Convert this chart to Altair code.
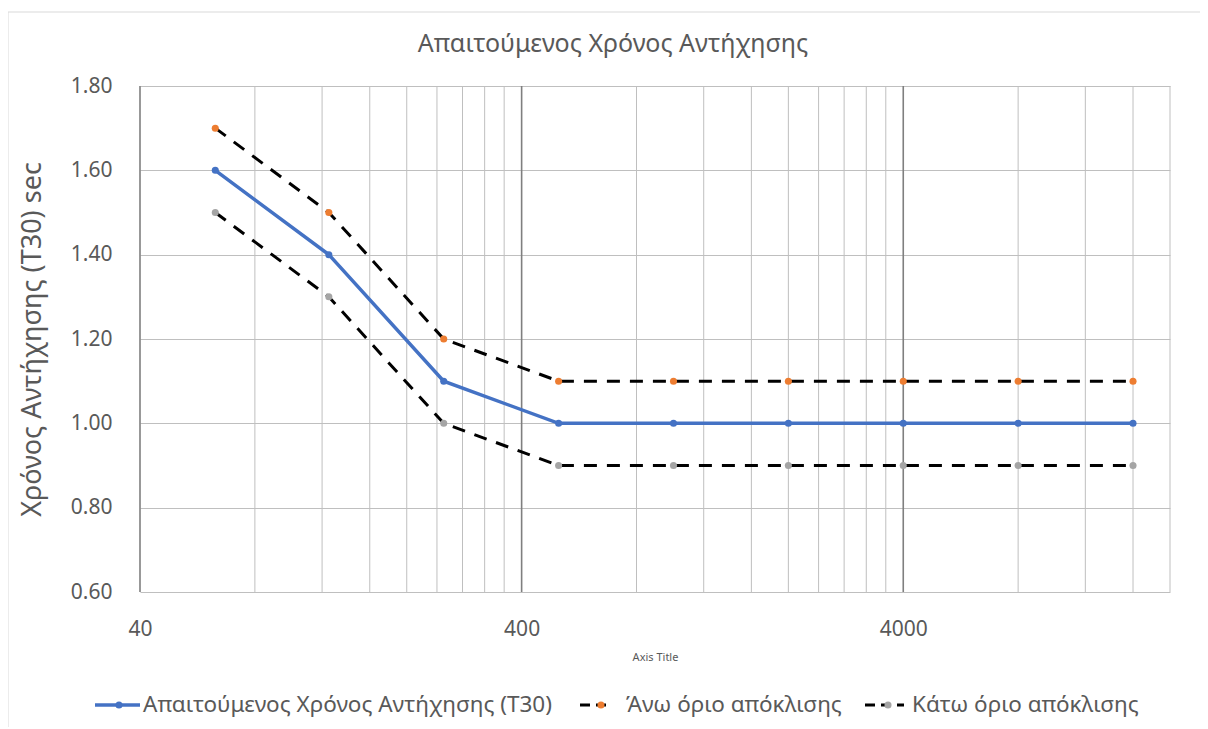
import altair as alt
import pandas as pd

freqs = [63, 125, 250, 500, 1000, 2000, 4000, 8000, 16000]
t30 = [1.6, 1.4, 1.1, 1.0, 1.0, 1.0, 1.0, 1.0, 1.0]
upper = [1.7, 1.5, 1.2, 1.1, 1.1, 1.1, 1.1, 1.1, 1.1]
lower = [1.5, 1.3, 1.0, 0.9, 0.9, 0.9, 0.9, 0.9, 0.9]

x_labels = [40, 400, 4000]
y_ticks = [0.6, 0.8, 1.0, 1.2, 1.4, 1.6, 1.8]
minor_grid = [80, 120, 160, 200, 240, 280, 320, 360,
              800, 1200, 1600, 2000, 2400, 2800, 3200, 3600,
              8000, 12000, 16000, 20000]
major_grid = [40, 400, 4000]

title = "Απαιτούμενος Χρόνος Αντήχησης"
y_title = "Χρόνος Αντήχησης (T30) sec"
x_title = "Axis Title"
series_names = ["Απαιτούμενος Χρόνος Αντήχησης (T30)", "Άνω όριο απόκλισης", "Κάτω όριο απόκλισης"]

FONT = "Noto Sans"
TXT = "#595959"
BLUE = "#4472C4"
ORANGE = "#ED7D31"
GRAY = "#A5A5A5"

W, H = 1030, 506

df = pd.DataFrame({"f": freqs, "t30": t30, "upper": upper, "lower": lower})

xscale = alt.Scale(type="log", domain=[40, 20000], nice=False)
yscale = alt.Scale(domain=[0.6, 1.8], nice=False, zero=False)

xaxis = alt.Axis(values=x_labels, format="d", grid=False, ticks=False, domain=False,
                 labelFlush=False, labelPadding=26, labelFontSize=21, labelColor=TXT, labelFont=FONT,
                 title=x_title, titleFontSize=11, titleColor=TXT, titleFont=FONT,
                 titleFontWeight="normal", titlePadding=12)
yaxis = alt.Axis(values=y_ticks, format=".2f", grid=True, gridColor="#BFBFBF", gridWidth=1,
                 ticks=False, domain=False, labelPadding=28, labelFontSize=21,
                 labelColor=TXT, labelFont=FONT, title=y_title, titleFontSize=27,
                 titleColor=TXT, titleFont=FONT, titleFontWeight="normal", titlePadding=24)

X = alt.X("f:Q", scale=xscale, axis=xaxis)

def xg():
    return alt.X("g:Q", scale=xscale, axis=xaxis)

base = alt.Chart(df)

axes_layer = base.mark_point(opacity=0).encode(
    x=X,
    y=alt.Y("t30:Q", scale=yscale, axis=yaxis),
)

minor = alt.Chart(pd.DataFrame({"g": minor_grid})).mark_rule(color="#BFBFBF", strokeWidth=1).encode(x=xg())
major = alt.Chart(pd.DataFrame({"g": major_grid})).mark_rule(color="#7F7F7F", strokeWidth=1.6).encode(x=xg())

dash = [13, 10]
DW = 3
PS = 50
def yy(field):
    return alt.Y(f"{field}:Q", scale=yscale, axis=yaxis)

up_line = base.mark_line(color="black", strokeDash=dash, strokeWidth=DW).encode(x=X, y=yy("upper"))
up_pts = base.mark_circle(color=ORANGE, size=PS, opacity=1).encode(x=X, y=yy("upper"))
lo_line = base.mark_line(color="black", strokeDash=dash, strokeWidth=DW).encode(x=X, y=yy("lower"))
lo_pts = base.mark_circle(color=GRAY, size=PS, opacity=1).encode(x=X, y=yy("lower"))
t_line = base.mark_line(color=BLUE, strokeWidth=3.5).encode(x=X, y=yy("t30"))
t_pts = base.mark_circle(color=BLUE, size=PS, opacity=1).encode(x=X, y=yy("t30"))

one = alt.Data(values=[{}])
LY = 619
def seg(x1, x2, color, width, sd=None):
    kw = dict(color=color, strokeWidth=width)
    if sd:
        kw["strokeDash"] = sd
    return alt.Chart(one).mark_rule(**kw).encode(x=alt.value(x1), x2=alt.value(x2), y=alt.value(LY))
def dot(x, color):
    return alt.Chart(one).mark_circle(color=color, size=PS, opacity=1).encode(x=alt.value(x), y=alt.value(LY))
def label(x, txt, size=22.5, y=LY):
    return alt.Chart(one).mark_text(align="left", baseline="middle", font=FONT, fontSize=size,
                                    color=TXT).encode(x=alt.value(x), y=alt.value(y), text=alt.value(txt))

legend = [
    seg(-45, 0, BLUE, 3.5), dot(-21, BLUE), label(3, series_names[0]),
    seg(440, 470, "black", DW, [10, 6]), dot(461, ORANGE), label(486, series_names[1]),
    seg(725, 764, "black", DW, [10, 6]), dot(748, GRAY), label(772, series_names[2]),
]

title_mark = alt.Chart(one).mark_text(align="center", baseline="middle", font=FONT, fontSize=25,
                                      color=TXT).encode(x=alt.value(473), y=alt.value(-42),
                                                        text=alt.value(title))

border_top = alt.Chart(one).mark_rule(color="#D9D9D9", strokeWidth=1).encode(
    x=alt.value(-132), x2=alt.value(1100), y=alt.value(-74))
border_left = alt.Chart(one).mark_rule(color="#D9D9D9", strokeWidth=1).encode(
    x=alt.value(-132), y=alt.value(-74), y2=alt.value(700))

chart = alt.layer(
    border_top, border_left, minor, major, axes_layer, up_line, lo_line, t_line,
    up_pts, lo_pts, t_pts, title_mark, *legend
).properties(
    width=W, height=H,
    autosize=alt.AutoSizeParams(type="none"),
    padding={"left": 132, "top": 78, "right": 30, "bottom": 135},
).configure_view(stroke=None)

chart.save("out.html", embed_options={"renderer": "svg", "actions": False})
